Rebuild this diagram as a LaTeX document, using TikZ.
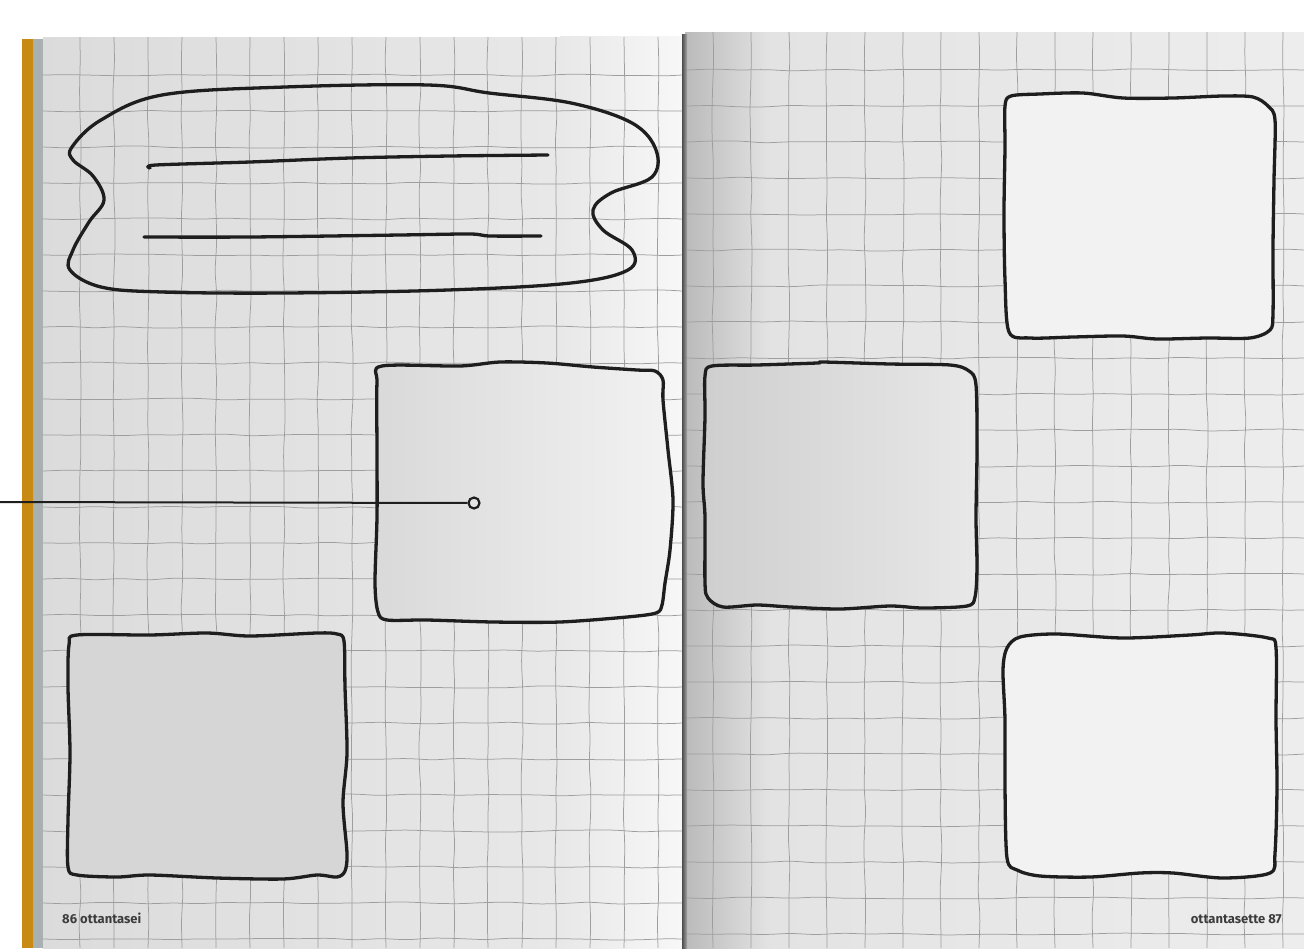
\documentclass[tikz,border=0pt]{standalone}
\usepackage{fontspec}
\setsansfont{Fira Sans}
\usetikzlibrary{decorations.pathmorphing}
\definecolor{spineor}{HTML}{C98A14}
\definecolor{spinegr}{HTML}{A9B0B2}
\definecolor{gridc}{HTML}{9E9E9E}
\definecolor{ink}{HTML}{1E1E1E}
\definecolor{numc}{HTML}{3C3C3C}
\tikzset{
  gridline/.style={draw=gridc, line width=0.75pt, decorate,
    decoration={random steps, segment length=26pt, amplitude=1.1pt}, rounded corners=8pt},
  hand/.style={draw=ink, line width=3.3pt, line join=round, line cap=round},
  pagenum/.style={font=\sffamily\bfseries\fontsize{13}{15}\selectfont, text=numc, inner sep=0pt}
}
\begin{document}
\begin{tikzpicture}[x=1pt,y=-1pt]
\useasboundingbox (0,0) rectangle (1304,948);
\fill[white] (0,0) rectangle (1304,948);
% pages
\shade[left color=black!14, right color=black!9] (43,37) rectangle (560,948);
\shade[left color=black!9, right color=black!3] (560,36) rectangle (683,948);
\shade[left color=black!27, right color=black!11] (685,32) rectangle (770,948);
\shade[left color=black!11, right color=black!7] (770,32) rectangle (1304,948);
% spine strips
\fill[spineor] (22,39) rectangle (33,948);
\fill[spinegr] (33,39) rectangle (43,948);
\shade[left color=black!70, right color=black!35] (682,34) rectangle (687,948);
% grid
\pgfmathsetseed{7}
\foreach \x in {80,114,...,680} \draw[gridline] (\x,37) -- (\x,948);
\foreach \y in {75,111,...,948} \draw[gridline] (43,\y) -- (682,\y);
\foreach \x in {713,751,...,1304} \draw[gridline] (\x,32) -- (\x,948);
\foreach \y in {70,106,...,948} \draw[gridline] (687,\y) -- (1304,\y);
% blob
\draw[hand] plot[smooth cycle, tension=0.6] coordinates {
 (72,147) (101,120) (162,95) (285,87) (428,85) (489,93) (571,103) (632,123)
 (656,150) (652,177) (611,193) (593,210) (603,230) (632,250) (628,270) (571,283)
 (448,290) (285,293) (162,292) (101,287) (70,270) (73,250) (89,222) (104,200)
 (93,176) (73,160)};
\draw[hand] plot[smooth, tension=0.5] coordinates {(150,168) (156,165) (250,162) (350,158) (450,156) (548,155)};
\draw[hand] plot[smooth, tension=0.5] coordinates {(144,237) (250,237) (400,235) (470,234) (490,236) (541,236)};
% square A
\shade[hand, left color=black!15, right color=black!5] plot[smooth cycle, tension=0.5] coordinates {
 (382,366) (460,366) (500,362) (547,363) (593,367) (637,370) (655,371) (663,380)
 (663,400) (668,450) (673,500) (670,550) (665,583) (662,605) (656,613)
 (627,617) (560,622) (493,622) (427,620) (387,620) (378,612)
 (375,583) (377,517) (377,450) (377,383)};
% square B
\draw[hand, fill=black!16] plot[smooth cycle, tension=0.5] coordinates {
 (77,635) (150,635) (207,633) (250,636) (317,633) (337,634) (344,641)
 (345,687) (347,753) (343,803) (347,853) (345,871) (337,877)
 (317,875) (283,879) (217,878) (150,875) (117,877) (77,875) (68,867)
 (68,820) (70,753) (68,687) (69,645)};
% square C
\shade[hand, left color=black!19, right color=black!9] plot[smooth cycle, tension=0.5] coordinates {
 (712,366) (757,365) (817,363) (823,362) (890,364) (950,365) (969,371) (976,385)
 (977,450) (976,517) (977,567) (975,597) (967,606)
 (923,608) (890,606) (840,609) (790,607) (757,605) (723,607) (708,598)
 (705,583) (705,517) (703,483) (705,417) (705,376)};
% square D
\draw[hand, fill=black!5] plot[smooth cycle, tension=0.5] coordinates {
 (1011,96) (1040,94) (1083,93) (1123,98) (1173,98) (1223,96) (1253,97) (1268,106)
 (1275,120) (1274,180) (1273,247) (1273,313) (1270,330)
 (1250,338) (1207,338) (1157,339) (1123,336) (1073,337) (1030,338) (1009,332)
 (1005,280) (1004,213) (1005,147) (1005,106)};
% square E
\draw[hand, fill=black!5] plot[smooth cycle, tension=0.5] coordinates {
 (1020,637) (1057,634) (1123,638) (1190,635) (1223,633) (1268,638) (1276,648)
 (1276,720) (1277,787) (1275,853) (1270,873)
 (1223,878) (1173,873) (1140,873) (1090,877) (1040,876) (1017,870) (1007,858)
 (1005,787) (1005,720) (1003,670) (1007,648)};
% connector
\coordinate (start) at (0,502);
\node[circle, draw=ink, fill=black!10, line width=2.2pt, minimum size=11pt, inner sep=0pt] (dot) at (474,503) {};
\draw[ink, line width=2pt] (start) -- (dot);
% page numbers
\node[pagenum, anchor=base west] (pl) at (62,923) {86 ottantasei};
\node[pagenum, anchor=base east] (pr) at (1282,923) {ottantasette 87};
\end{tikzpicture}
\end{document}
